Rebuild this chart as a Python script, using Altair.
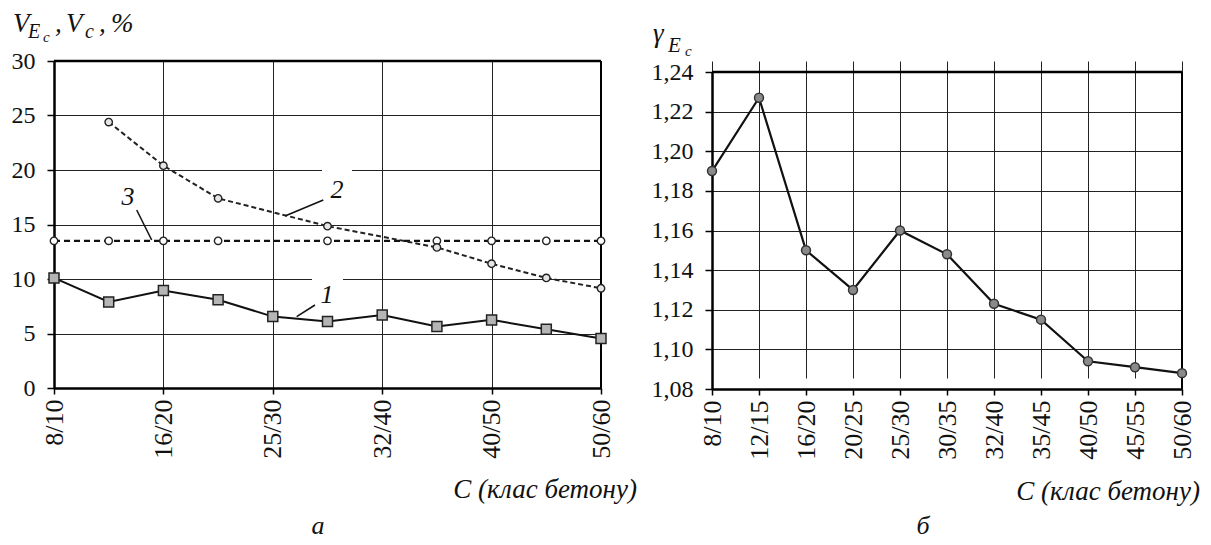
import altair as alt
import pandas as pd

FONT = "Tinos, 'Liberation Serif', 'Times New Roman', serif"

# ---------------- data ----------------
classes = ["8/10", "12/15", "16/20", "20/25", "25/30", "30/35",
           "32/40", "35/45", "40/50", "45/55", "50/60"]
left_tick_classes = ["8/10", "16/20", "25/30", "32/40", "40/50", "50/60"]

# curve 1: V_Ec (squares, solid)
v_ec_classes = classes
v_ec = [10.1, 7.9, 8.95, 8.1, 6.55, 6.1, 6.7, 5.65, 6.25, 5.4, 4.55]

# curve 2: V_c (circles, dashed)
v_c_classes = ["12/15", "16/20", "20/25", "30/35", "35/45", "40/50", "45/55", "50/60"]
v_c = [24.4, 20.4, 17.4, 14.85, 12.9, 11.4, 10.1, 9.15]

# curve 3: limit level (circles, dashed)
v_lim_classes = ["8/10", "12/15", "16/20", "20/25", "30/35", "35/45", "40/50", "45/55", "50/60"]
v_lim = [13.5, 13.5, 13.5, 13.5, 13.5, 13.5, 13.5, 13.5, 13.5]

# right panel: gamma_Ec
gamma = [1.190, 1.227, 1.150, 1.130, 1.160, 1.148, 1.123, 1.115, 1.094, 1.091, 1.088]

left_y_ticks = [0, 5, 10, 15, 20, 25, 30]
right_y_ticks = [1.08, 1.10, 1.12, 1.14, 1.16, 1.18, 1.20, 1.22, 1.24]


def frame(cls_list, vals):
    return pd.DataFrame({"cls": cls_list, "v": vals,
                         "idx": [classes.index(c) for c in cls_list]})


df1 = frame(v_ec_classes, v_ec)
df2 = frame(v_c_classes, v_c)
df3 = frame(v_lim_classes, v_lim)
dfg = frame(classes, gamma)

LW, LH = 547, 327
RW, RH = 470, 328

axis_common = dict(grid=True, gridColor="#222", gridWidth=1,
                   domainColor="#000", domainWidth=2.5,
                   tickColor="#000", tickWidth=1.5,
                   labelFont=FONT, labelColor="#111", title=None)

x_left = alt.X("cls:O", scale=alt.Scale(type="point", domain=classes, padding=0),
               axis=alt.Axis(values=left_tick_classes, labelAngle=-90,
                             tickSize=6, labelPadding=5, labelFontSize=26,
                             **axis_common))
y_left = alt.Y("v:Q", scale=alt.Scale(domain=[0, 30], nice=False, zero=False),
               axis=alt.Axis(values=left_y_ticks, tickSize=7, labelPadding=12,
                             labelFontSize=24, **axis_common))

x_right = alt.X("cls:O", scale=alt.Scale(type="point", domain=classes, padding=0),
                axis=alt.Axis(values=classes, labelAngle=-90,
                              tickSize=6, labelPadding=5, labelFontSize=26,
                              **axis_common))
y_right = alt.Y("v:Q", scale=alt.Scale(domain=[1.08, 1.24], nice=False, zero=False,
                                       range=[RH, 11]),
                axis=alt.Axis(values=right_y_ticks, tickSize=7, labelPadding=12,
                              labelFontSize=24,
                              labelExpr="replace(format(datum.value, '.2f'), '.', ',')",
                              **axis_common))

_one = pd.DataFrame({"k": [0]})


def txt(s, x, y, size=26, italic=True, align="left"):
    kw = dict(text=s, font=FONT, fontSize=size, align=align,
              baseline="alphabetic", color="#111")
    if italic:
        kw["fontStyle"] = "italic"
    return alt.Chart(_one).mark_text(**kw).encode(x=alt.value(x), y=alt.value(y))


def seg(x1, y1, x2, y2):
    return alt.Chart(_one).mark_rule(color="#111", strokeWidth=1.5).encode(
        x=alt.value(x1), y=alt.value(y1), x2=alt.value(x2), y2=alt.value(y2))


def white(x1, y1, x2, y2):
    return alt.Chart(_one).mark_rect(color="white").encode(
        x=alt.value(x1), y=alt.value(y1), x2=alt.value(x2), y2=alt.value(y2))


# ---------------- left panel ----------------
top_border_l = alt.Chart(_one).mark_rule(color="#000", strokeWidth=2.5).encode(y=alt.datum(30))
right_border_l = alt.Chart(_one).mark_rule(color="#000", strokeWidth=2).encode(x=alt.datum("50/60"))

line3 = alt.Chart(df3).mark_line(color="#111", strokeWidth=2.4, strokeDash=[6, 4]).encode(
    x=x_left, y=y_left, order=alt.Order("idx:Q"))
pts3 = alt.Chart(df3).mark_point(shape="circle", filled=True, size=55, fill="white",
                                 stroke="#222", strokeWidth=1.4, opacity=1).encode(x=x_left, y=y_left)
line2 = alt.Chart(df2).mark_line(color="#222", strokeWidth=2, strokeDash=[5, 3]).encode(
    x=x_left, y=y_left, order=alt.Order("idx:Q"))
pts2 = alt.Chart(df2).mark_point(shape="circle", filled=True, size=55, fill="#e6e6e6",
                                 stroke="#222", strokeWidth=1.4, opacity=1).encode(x=x_left, y=y_left)
line1 = alt.Chart(df1).mark_line(color="#111", strokeWidth=2).encode(
    x=x_left, y=y_left, order=alt.Order("idx:Q"))
pts1 = alt.Chart(df1).mark_point(shape="square", filled=True, size=100, fill="#b5b5b5",
                                 stroke="#222", strokeWidth=1.5, opacity=1).encode(x=x_left, y=y_left)

anchor_l = alt.Chart(_one).mark_point(filled=True, size=4, opacity=0).encode(
    x=alt.value(-45), y=alt.value(-52))

left = alt.layer(
    anchor_l,
    white(268, 109, 298, 143),
    white(258, 213, 289, 245),
    top_border_l, right_border_l,
    line3, pts3, line2, pts2, line1, pts1,
    seg(82.7, 149, 97.7, 179), txt("3", 74, 144, align="center"),
    seg(231, 155, 269.3, 139), txt("2", 283, 137, align="center"),
    seg(242.7, 255.7, 261, 244), txt("1", 273, 242, align="center"),
    # y title: V_{E_c}, V_c, %
    txt("V", -41, -29, 27), txt("E", -26, -23, 20), txt("c", -11, -19, 15),
    txt(",", 1, -29, 27), txt("V", 12, -29, 27), txt("c", 31, -23, 20),
    txt(",", 45, -29, 27), txt("%", 57, -29, 27),
    # x title and caption
    txt("C (клас бетону)", 583, 437, 27, align="right"),
    txt("а", 264, 473, 26, align="center"),
).properties(width=LW, height=LH)

# ---------------- right panel ----------------
top_border_r = alt.Chart(_one).mark_rule(color="#000", strokeWidth=2.5).encode(y=alt.datum(1.24))
right_border_r = alt.Chart(_one).mark_rule(color="#000", strokeWidth=2).encode(
    x=alt.datum("50/60"), y=alt.datum(1.24), y2=alt.datum(1.08))

gline = alt.Chart(dfg).mark_line(color="#111", strokeWidth=2.2).encode(
    x=x_right, y=y_right, order=alt.Order("idx:Q"))
gpts = alt.Chart(dfg).mark_point(shape="circle", filled=True, size=80, fill="#8a8a8a",
                                 stroke="#333", strokeWidth=1.5, opacity=1).encode(x=x_right, y=y_right)

right = alt.layer(
    top_border_r, right_border_r, gline, gpts,
    txt("γ", -59, -19, 27), txt("E", -44, -9, 21), txt("c", -27, -5, 15),
    txt("C (клас бетону)", 488, 439, 27, align="right"),
    txt("б", 211, 473, 26, align="center"),
).properties(width=RW, height=RH)

chart = alt.hconcat(left, right, spacing=111, bounds="flush").properties(
    padding={"left": 0, "top": 0, "right": 0, "bottom": 0}
).configure(font=FONT).configure_view(stroke=None)

chart.save("out.html", embed_options={"renderer": "svg", "actions": False})
